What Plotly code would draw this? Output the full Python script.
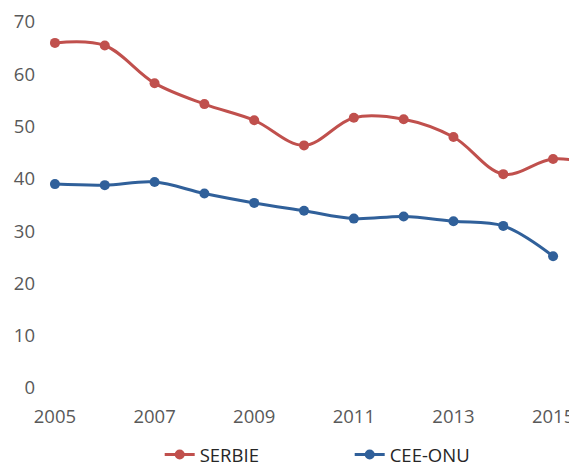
import plotly.graph_objects as go

years = [2005, 2006, 2007, 2008, 2009, 2010, 2011, 2012, 2013, 2014, 2015, 2016]
serbie = [66.0, 65.5, 58.3, 54.3, 51.2, 46.4, 51.7, 51.4, 48.0, 40.9, 43.8, 42.5]
years_cee = [2005, 2006, 2007, 2008, 2009, 2010, 2011, 2012, 2013, 2014, 2015]
cee_onu = [39.0, 38.8, 39.4, 37.2, 35.4, 33.9, 32.4, 32.8, 31.9, 31.0, 25.2]
x_ticks = [2005, 2007, 2009, 2011, 2013, 2015]
y_ticks = [0, 10, 20, 30, 40, 50, 60, 70]

RED = "#C0504D"
BLUE = "#30609A"
FONT = "Open Sans"

fig = go.Figure()
fig.add_trace(go.Scatter(
    x=years, y=serbie, name="SERBIE", mode="lines+markers",
    line=dict(color=RED, width=3, shape="spline", smoothing=1),
    marker=dict(color=RED, size=10),
))
fig.add_trace(go.Scatter(
    x=years_cee, y=cee_onu, name="CEE-ONU", mode="lines+markers",
    line=dict(color=BLUE, width=3, shape="spline", smoothing=1),
    marker=dict(color=BLUE, size=10),
))

fig.update_layout(
    width=569, height=458,
    margin=dict(l=34, r=0, t=14, b=78),
    paper_bgcolor="white", plot_bgcolor="white",
    font=dict(family=FONT, size=18.5, color="#595959"),
    showlegend=True,
    legend=dict(orientation="h", x=0.22, xanchor="left",
                yref="container", y=0.024, yanchor="middle",
                font=dict(family=FONT, size=18.5, color="#262626"),
                entrywidth=145, tracegroupgap=0),
    xaxis=dict(range=[2004.74, 2015.48], tickvals=x_ticks, showgrid=False,
               zeroline=False, showline=False, ticks="", ticklabelstandoff=15,
               automargin=False),
    yaxis=dict(range=[0, 70], tickvals=y_ticks, showgrid=False, zeroline=False,
               showline=False, ticks="", ticklabelstandoff=6, automargin=False),
)

fig.write_html("out.html")
